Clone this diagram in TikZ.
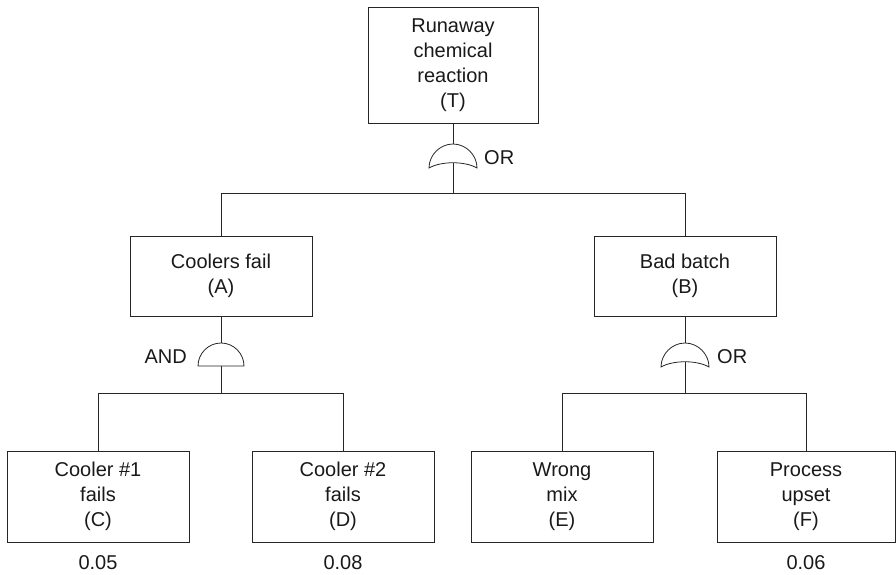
\documentclass[tikz,border=0pt]{standalone}
\usepackage{fontspec}
\setmainfont{Liberation Sans}
\begin{document}
\begin{tikzpicture}[x=1pt,y=-1pt,
  ln/.style={draw=black!85,line width=0.8pt},
  ev/.style={ln,rectangle,minimum width=182pt,align=center,inner sep=0pt,
    font=\fontsize{20}{25}\selectfont,text=black!90},
  lab/.style={inner sep=0pt,font=\fontsize{20}{25}\selectfont,text=black!90},
  orgate/.pic={
    \draw[ln] (-24,24) .. controls (-24,11) and (-13,0) .. (0,0)
      .. controls (13,0) and (24,11) .. (24,24)
      .. controls (12,17) and (-12,17) .. cycle;
    \coordinate (-top) at (0,0);
    \coordinate (-bot) at (0,19);
  },
  andgate/.pic={
    \draw[ln] (-23,23) .. controls (-23,10.5) and (-12.7,0) .. (0,0)
      .. controls (12.7,0) and (23,10.5) .. (23,23) -- cycle;
    \coordinate (-top) at (0,0);
    \coordinate (-bot) at (0,23);
  }]
\useasboundingbox (0,0) rectangle (896,574);

% events
\node[ev,minimum width=170pt,minimum height=116pt] (T) at (453,65) {Runaway\\chemical\\reaction\\(T)};
\node[ev,minimum height=80pt] (A) at (221,276) {Coolers fail\\(A)};
\node[ev,minimum height=80pt] (B) at (685,276) {Bad batch\\(B)};
\node[ev,minimum height=91pt] (C) at (98,496.5) {Cooler \#1\\fails\\(C)};
\node[ev,minimum height=91pt] (D) at (343,496.5) {Cooler \#2\\fails\\(D)};
\node[ev,minimum height=91pt] (E) at (562,496.5) {Wrong\\mix\\(E)};
\node[ev,minimum width=178pt,minimum height=91pt] (F) at (806,496.5) {Process\\upset\\(F)};

% gates
\pic (g1) at (453,144) {orgate};
\pic (g2) at (221,343) {andgate};
\pic (g3) at (685,343) {orgate};

\node[lab,anchor=west] (l1) at (484,158) {OR};
\node[lab,anchor=east] (l2) at (187,357) {AND};
\node[lab,anchor=west] (l3) at (717,357) {OR};

% probabilities
\node[lab] (pC) at (98,563) {0.05};
\node[lab] (pD) at (343,563) {0.08};
\node[lab] (pF) at (806,563) {0.06};

% junction coordinates
\coordinate (j1) at (453,193);
\coordinate (j2) at (221,393);
\coordinate (j3) at (685,393);

% connectors
\draw[ln] (T.south) -- (g1-top);
\draw[ln] (g1-bot) -- (j1);
\draw[ln] (A.north) -- (A.north |- j1) -- (B.north |- j1) -- (B.north);

\draw[ln] (A.south) -- (g2-top);
\draw[ln] (g2-bot) -- (j2);
\draw[ln] (C.north) -- (C.north |- j2) -- (D.north |- j2) -- (D.north);

\draw[ln] (B.south) -- (g3-top);
\draw[ln] (g3-bot) -- (j3);
\draw[ln] (E.north) -- (E.north |- j3) -- (F.north |- j3) -- (F.north);
\end{tikzpicture}
\end{document}
